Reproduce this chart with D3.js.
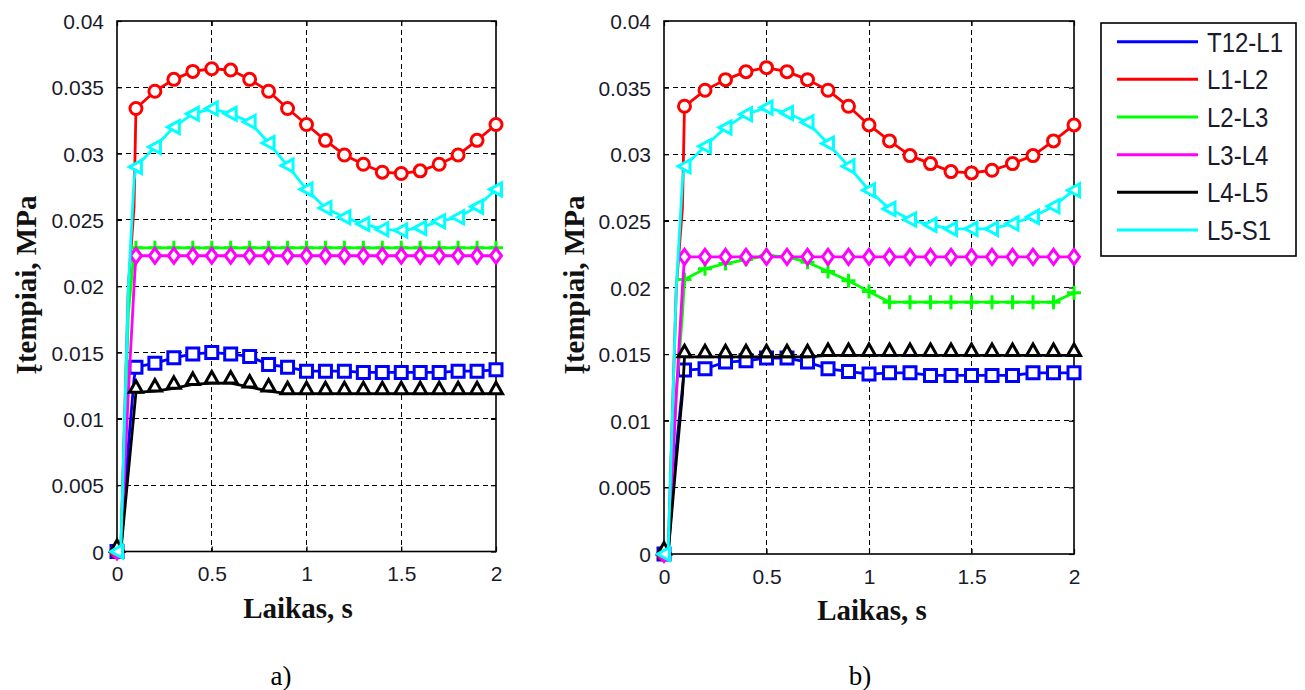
<!DOCTYPE html>
<html>
<head>
<meta charset="utf-8">
<script src="https://cdn.jsdelivr.net/npm/d3@7/dist/d3.min.js"></script>
<style>
  html, body { margin: 0; padding: 0; background: #fff; }
  svg { display: block; }
</style>
</head>
<body>
<svg id="chart" width="1305" height="690"></svg>
<script>
// ---------------- DATA ----------------
const seriesNames = ["T12-L1", "L1-L2", "L2-L3", "L3-L4", "L4-L5", "L5-S1"];

// sample times: a steep start (no markers except t=0), then a marker every 0.1 s
const times = [0, 0.02, 0.06, 0.09,
  0.1, 0.2, 0.3, 0.4, 0.5, 0.6, 0.7, 0.8, 0.9, 1.0,
  1.1, 1.2, 1.3, 1.4, 1.5, 1.6, 1.7, 1.8, 1.9, 2.0];
const markerTimes = [0, 0.1, 0.2, 0.3, 0.4, 0.5, 0.6, 0.7, 0.8, 0.9, 1.0,
  1.1, 1.2, 1.3, 1.4, 1.5, 1.6, 1.7, 1.8, 1.9, 2.0];

const xTicks = [0, 0.5, 1, 1.5, 2];
const xTickLabels = ["0", "0.5", "1", "1.5", "2"];
const yTicks = [0, 0.005, 0.01, 0.015, 0.02, 0.025, 0.03, 0.035, 0.04];
const yTickLabels = ["0", "0.005", "0.01", "0.015", "0.02", "0.025", "0.03", "0.035", "0.04"];

// panel a)
const aT12L1 = [0, 0, 0.008, 0.013,
  0.0139, 0.0142, 0.0146, 0.0149, 0.0150, 0.0149, 0.0147, 0.0141, 0.0139, 0.0136,
  0.0136, 0.0136, 0.0135, 0.0135, 0.0135, 0.0135, 0.0135, 0.0136, 0.0136, 0.0137];
const aL1L2 = [0, 0, 0.020, 0.026,
  0.0334, 0.0347, 0.0356, 0.0362, 0.0364, 0.0363, 0.0356, 0.0347, 0.0334, 0.0322,
  0.0310, 0.0299, 0.0292, 0.0286, 0.0285, 0.0287, 0.0292, 0.0299, 0.0310, 0.0322];
const aL2L3 = [0, 0, 0.018, 0.0226,
  0.0229, 0.0229, 0.0229, 0.0229, 0.0229, 0.0229, 0.0229, 0.0229, 0.0229, 0.0229,
  0.0229, 0.0229, 0.0229, 0.0229, 0.0229, 0.0229, 0.0229, 0.0229, 0.0229, 0.0229];
const aL3L4 = [0, 0, 0.012, 0.020,
  0.0223, 0.0223, 0.0223, 0.0223, 0.0223, 0.0223, 0.0223, 0.0223, 0.0223, 0.0223,
  0.0223, 0.0223, 0.0223, 0.0223, 0.0223, 0.0223, 0.0223, 0.0223, 0.0223, 0.0223];
const aL4L5 = [0, 0, 0.006, 0.0105,
  0.0120, 0.0121, 0.0123, 0.0126, 0.0127, 0.0127, 0.0124, 0.0121, 0.0119, 0.0119,
  0.0119, 0.0119, 0.0119, 0.0119, 0.0119, 0.0119, 0.0119, 0.0119, 0.0119, 0.0119];
const aL5S1 = [0, 0, 0.020, 0.028,
  0.0290, 0.0305, 0.0320, 0.0330, 0.0334, 0.0330, 0.0324, 0.0308, 0.0291, 0.0273,
  0.0259, 0.0252, 0.0247, 0.0243, 0.0242, 0.0244, 0.0249, 0.0252, 0.0260, 0.0273];

// panel b)
const bT12L1 = [0, 0, 0.008, 0.0125,
  0.0138, 0.0139, 0.0144, 0.0145, 0.0147, 0.0147, 0.0144, 0.0139, 0.0137, 0.0135,
  0.0136, 0.0136, 0.0134, 0.0134, 0.0134, 0.0134, 0.0134, 0.0136, 0.0136, 0.0136];
const bL1L2 = [0, 0, 0.020, 0.026,
  0.0336, 0.0348, 0.0356, 0.0362, 0.0365, 0.0362, 0.0356, 0.0348, 0.0336, 0.0322,
  0.0310, 0.0299, 0.0293, 0.0287, 0.0286, 0.0288, 0.0293, 0.0299, 0.0310, 0.0322];
const bL2L3 = [0, 0, 0.012, 0.018,
  0.0206, 0.0214, 0.0218, 0.0221, 0.0224, 0.0223, 0.0219, 0.0212, 0.0205, 0.0197,
  0.0189, 0.0189, 0.0189, 0.0189, 0.0189, 0.0189, 0.0189, 0.0189, 0.0189, 0.0196];
const bL3L4 = [0, 0, 0.012, 0.020,
  0.0223, 0.0223, 0.0223, 0.0223, 0.0223, 0.0223, 0.0223, 0.0223, 0.0223, 0.0223,
  0.0223, 0.0223, 0.0223, 0.0223, 0.0223, 0.0223, 0.0223, 0.0223, 0.0223, 0.0223];
const bL4L5 = [0, 0, 0.007, 0.012,
  0.0148, 0.0148, 0.0148, 0.0148, 0.0148, 0.0148, 0.0148, 0.0149, 0.0149, 0.0149,
  0.0149, 0.0149, 0.0149, 0.0149, 0.0149, 0.0149, 0.0149, 0.0149, 0.0149, 0.0149];
const bL5S1 = [0, 0, 0.020, 0.028,
  0.0291, 0.0306, 0.0320, 0.0330, 0.0335, 0.0331, 0.0324, 0.0308, 0.0291, 0.0273,
  0.0259, 0.0251, 0.0247, 0.0244, 0.0244, 0.0244, 0.0248, 0.0253, 0.0261, 0.0273];

const panelA = [aT12L1, aL1L2, aL2L3, aL3L4, aL4L5, aL5S1];
const panelB = [bT12L1, bL1L2, bL2L3, bL3L4, bL4L5, bL5S1];

// ---------------- STYLE ----------------
const colors = ["#0000ff", "#ff0000", "#00ff00", "#ff00ff", "#000000", "#00ffff"];
const markerKinds = ["square", "circle", "plus", "diamond", "triUp", "triLeft"];

const svg = d3.select("#chart");
const tickFont = "'Liberation Sans', Arial, sans-serif";
const labelFont = "'Liberation Serif', 'Times New Roman', serif";
const textColor = "#1a1a2a";

function markerPath(kind) {
  switch (kind) {
    case "square": return "M-6,-6H6V6H-6Z";
    case "circle": return "M-6,0A6,6 0 1,0 6,0A6,6 0 1,0 -6,0Z";
    case "plus": return "M-7,0H7M0,-7V7";
    case "diamond": return "M0,-7.5L5.5,0L0,7.5L-5.5,0Z";
    case "triUp": return "M0,-11.5L6.5,0L-6.5,0Z";
    case "triLeft": return "M-6.5,0L5.5,-6.5L5.5,6.5Z";
  }
}

function drawPanel(cfg) {
  const x = d3.scaleLinear().domain([0, 2]).range([cfg.left, cfg.right]);
  const y = d3.scaleLinear().domain([0, 0.04]).range([cfg.bottom, cfg.top]);
  const g = svg.append("g");

  // grid
  const grid = g.append("g").attr("stroke", "#000").attr("stroke-width", 1)
    .attr("stroke-dasharray", "5,3.5").attr("shape-rendering", "crispEdges");
  grid.selectAll("line.gx").data(xTicks.slice(1, -1)).join("line")
    .attr("x1", d => x(d)).attr("x2", d => x(d))
    .attr("y1", cfg.top).attr("y2", cfg.bottom);
  grid.selectAll("line.gy").data(yTicks.slice(1, -1)).join("line")
    .attr("class", "gy")
    .attr("x1", cfg.left).attr("x2", cfg.right)
    .attr("y1", d => y(d)).attr("y2", d => y(d));

  // axes via d3 axis (ticks inward)
  const axB = d3.axisBottom(x).tickValues(xTicks).tickSize(-5).tickPadding(14)
    .tickFormat((d, i) => xTickLabels[i]);
  const axL = d3.axisLeft(y).tickValues(yTicks).tickSize(-5).tickPadding(13)
    .tickFormat((d, i) => yTickLabels[i]);
  const axT = d3.axisTop(x).tickValues(xTicks).tickSize(-5).tickFormat("");
  const axR = d3.axisRight(y).tickValues(yTicks).tickSize(-5).tickFormat("");

  const gb = g.append("g").attr("transform", `translate(0,${cfg.bottom})`).call(axB);
  const gl = g.append("g").attr("transform", `translate(${cfg.left},0)`).call(axL);
  const gt = g.append("g").attr("transform", `translate(0,${cfg.top})`).call(axT);
  const gr = g.append("g").attr("transform", `translate(${cfg.right},0)`).call(axR);
  [gb, gl, gt, gr].forEach(a => {
    a.select(".domain").remove();
    a.selectAll(".tick line").attr("stroke", "#000").attr("stroke-width", 1.2);
    a.selectAll("text").attr("font-family", tickFont).attr("font-size", 21)
      .attr("fill", textColor);
  });
  gb.selectAll("text").attr("dy", "0.75em");
  gl.selectAll("text").attr("dy", "0.36em");

  // box
  g.append("rect").attr("x", cfg.left).attr("y", cfg.top)
    .attr("width", cfg.right - cfg.left).attr("height", cfg.bottom - cfg.top)
    .attr("fill", "none").attr("stroke", "#000").attr("stroke-width", 1.6);

  // series
  const line = d3.line().x(d => x(d[0])).y(d => y(d[1]));
  cfg.data.forEach((vals, si) => {
    const pts = times.map((t, i) => [t, vals[i]]);
    const sg = g.append("g");
    sg.append("path").attr("d", line(pts)).attr("fill", "none")
      .attr("stroke", colors[si]).attr("stroke-width", 2.8)
      .attr("stroke-linejoin", "round");
    const mpts = pts.filter(p => markerTimes.some(m => Math.abs(m - p[0]) < 1e-9));
    sg.selectAll("path.m").data(mpts).join("path")
      .attr("class", "m")
      .attr("transform", d => `translate(${x(d[0])},${y(d[1])})`)
      .attr("d", markerPath(markerKinds[si]))
      .attr("fill", markerKinds[si] === "plus" ? "none" : "#fff")
      .attr("stroke", colors[si]).attr("stroke-width", 3)
      .attr("stroke-linejoin", "miter");
  });

  // axis titles
  g.append("text").attr("x", cfg.xLabelX).attr("y", cfg.xLabelY)
    .attr("text-anchor", "middle").attr("font-family", labelFont)
    .attr("font-weight", "bold").attr("font-size", 29).attr("fill", "#111")
    .text("Laikas, s");
  g.append("text")
    .attr("transform", `translate(${cfg.yLabelX},${cfg.yLabelY}) rotate(-90)`)
    .attr("text-anchor", "middle").attr("font-family", labelFont)
    .attr("font-weight", "bold").attr("font-size", 29).attr("fill", "#111")
    .text("Įtempiai, MPa");
  g.append("text").attr("x", cfg.capX).attr("y", 685)
    .attr("text-anchor", "middle").attr("font-family", labelFont)
    .attr("font-size", 27).attr("fill", "#000").text(cfg.caption);
}

drawPanel({ left: 117, right: 496, top: 21, bottom: 551.5, data: panelA,
  xLabelX: 298, xLabelY: 618, yLabelX: 36, yLabelY: 285, capX: 281, caption: "a)" });
drawPanel({ left: 664, right: 1074, top: 21, bottom: 554, data: panelB,
  xLabelX: 872, xLabelY: 620, yLabelX: 584, yLabelY: 285, capX: 860, caption: "b)" });

// legend
const lg = svg.append("g");
lg.append("rect").attr("x", 1101).attr("y", 23).attr("width", 195).attr("height", 233)
  .attr("fill", "#fff").attr("stroke", "#000").attr("stroke-width", 1.6);
const ly = d3.scalePoint().domain(seriesNames).range([41.7, 230]);
seriesNames.forEach((n, i) => {
  lg.append("line").attr("x1", 1117).attr("x2", 1198)
    .attr("y1", ly(n)).attr("y2", ly(n))
    .attr("stroke", colors[i]).attr("stroke-width", 3);
  lg.append("text")
    .attr("transform", `translate(1207,${ly(n)}) scale(1,1.15)`)
    .attr("dy", "0.36em")
    .attr("font-family", tickFont).attr("font-size", 24).attr("fill", textColor)
    .text(n);
});
</script>
</body>
</html>
